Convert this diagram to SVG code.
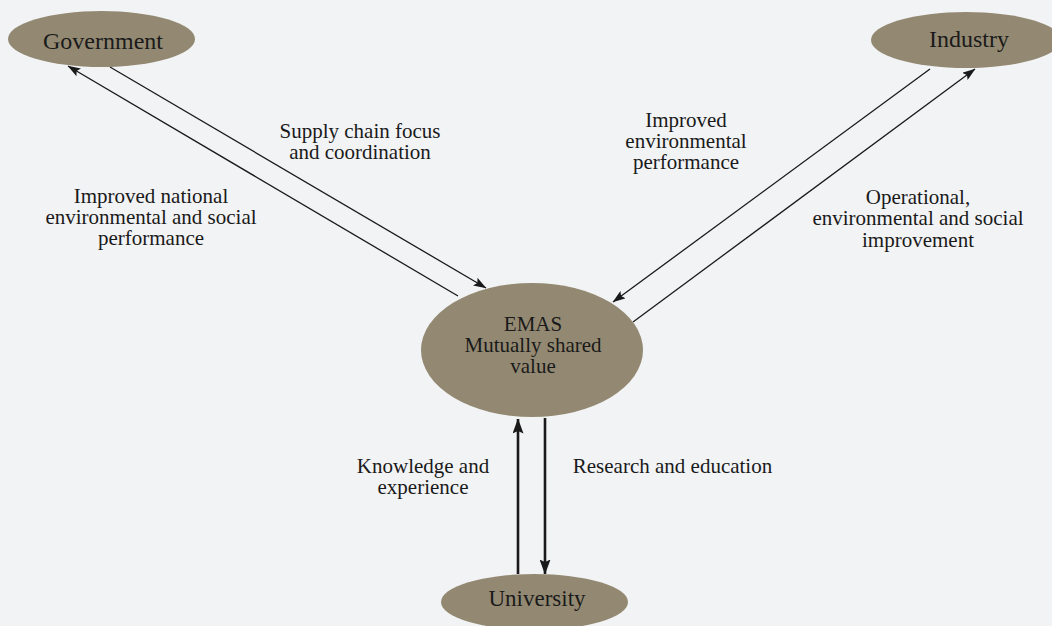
<svg xmlns="http://www.w3.org/2000/svg" width="1052" height="626" viewBox="0 0 1052 626">
<style>
.node{fill:#938972;}
.t{font-family:"Liberation Serif","Times New Roman",serif;fill:#1a1a1a;text-anchor:middle;}
.nl{font-size:24px;}
.lb{font-size:21px;}
.c{stroke:#1a1a1a;fill:none;}
.thin{stroke-width:1.3;marker-end:url(#ah);}
.thick{stroke-width:2.6;marker-end:url(#ahb);}
</style>
<defs>
<marker id="ah" viewBox="0 0 13 9" refX="12.5" refY="4.5" markerWidth="13" markerHeight="9" markerUnits="userSpaceOnUse" orient="auto">
<path d="M0,0 L13,4.5 L0,9 L2.5,4.5 z" fill="#1a1a1a"/>
</marker>
<marker id="ahb" viewBox="0 0 15 11" refX="14.5" refY="5.5" markerWidth="15" markerHeight="11" markerUnits="userSpaceOnUse" orient="auto">
<path d="M0,0 L15,5.5 L0,11 L2.5,5.5 z" fill="#1a1a1a"/>
</marker>
</defs>
<rect width="1052" height="626" fill="#f2f3f5"/>
<g id="connectors">
<line class="c thin" x1="458" y1="296" x2="68" y2="66"/>
<line class="c thin" x1="110" y1="67" x2="486" y2="288"/>
<line class="c thin" x1="930" y1="69" x2="613" y2="302"/>
<line class="c thin" x1="633" y1="322" x2="975" y2="69"/>
<line class="c thick" x1="518" y1="574" x2="518" y2="419"/>
<line class="c thick" x1="545" y1="418" x2="545" y2="574"/>
</g>
<g id="government">
<ellipse class="node" cx="101.5" cy="39" rx="93.5" ry="28"/>
<text class="t nl" x="103" y="49">Government</text>
</g>
<g id="industry">
<ellipse class="node" cx="966" cy="40" rx="95" ry="28"/>
<text class="t nl" x="969" y="47">Industry</text>
</g>
<g id="emas">
<ellipse class="node" cx="532" cy="350" rx="111" ry="67"/>
<text class="t lb" x="533" y="331">EMAS<tspan x="533" dy="21">Mutually shared</tspan><tspan x="533" dy="21">value</tspan></text>
</g>
<g id="university">
<ellipse class="node" cx="534.5" cy="602" rx="93.5" ry="28"/>
<text class="t" style="font-size:23px" x="537" y="606">University</text>
</g>
<g id="labels">
<text class="t lb" x="360" y="138">Supply chain focus<tspan x="360" dy="21">and coordination</tspan></text>
<text class="t lb" x="151" y="203">Improved national<tspan x="151" dy="21">environmental and social</tspan><tspan x="151" dy="21">performance</tspan></text>
<text class="t lb" x="686" y="127">Improved<tspan x="686" dy="21">environmental</tspan><tspan x="686" dy="21">performance</tspan></text>
<text class="t lb" x="918" y="204">Operational,<tspan x="918" dy="21">environmental and social</tspan><tspan x="918" dy="22">improvement</tspan></text>
<text class="t lb" x="423" y="473">Knowledge and<tspan x="423" dy="21">experience</tspan></text>
<text class="t lb" x="672.5" y="473">Research and education</text>
</g>
</svg>
